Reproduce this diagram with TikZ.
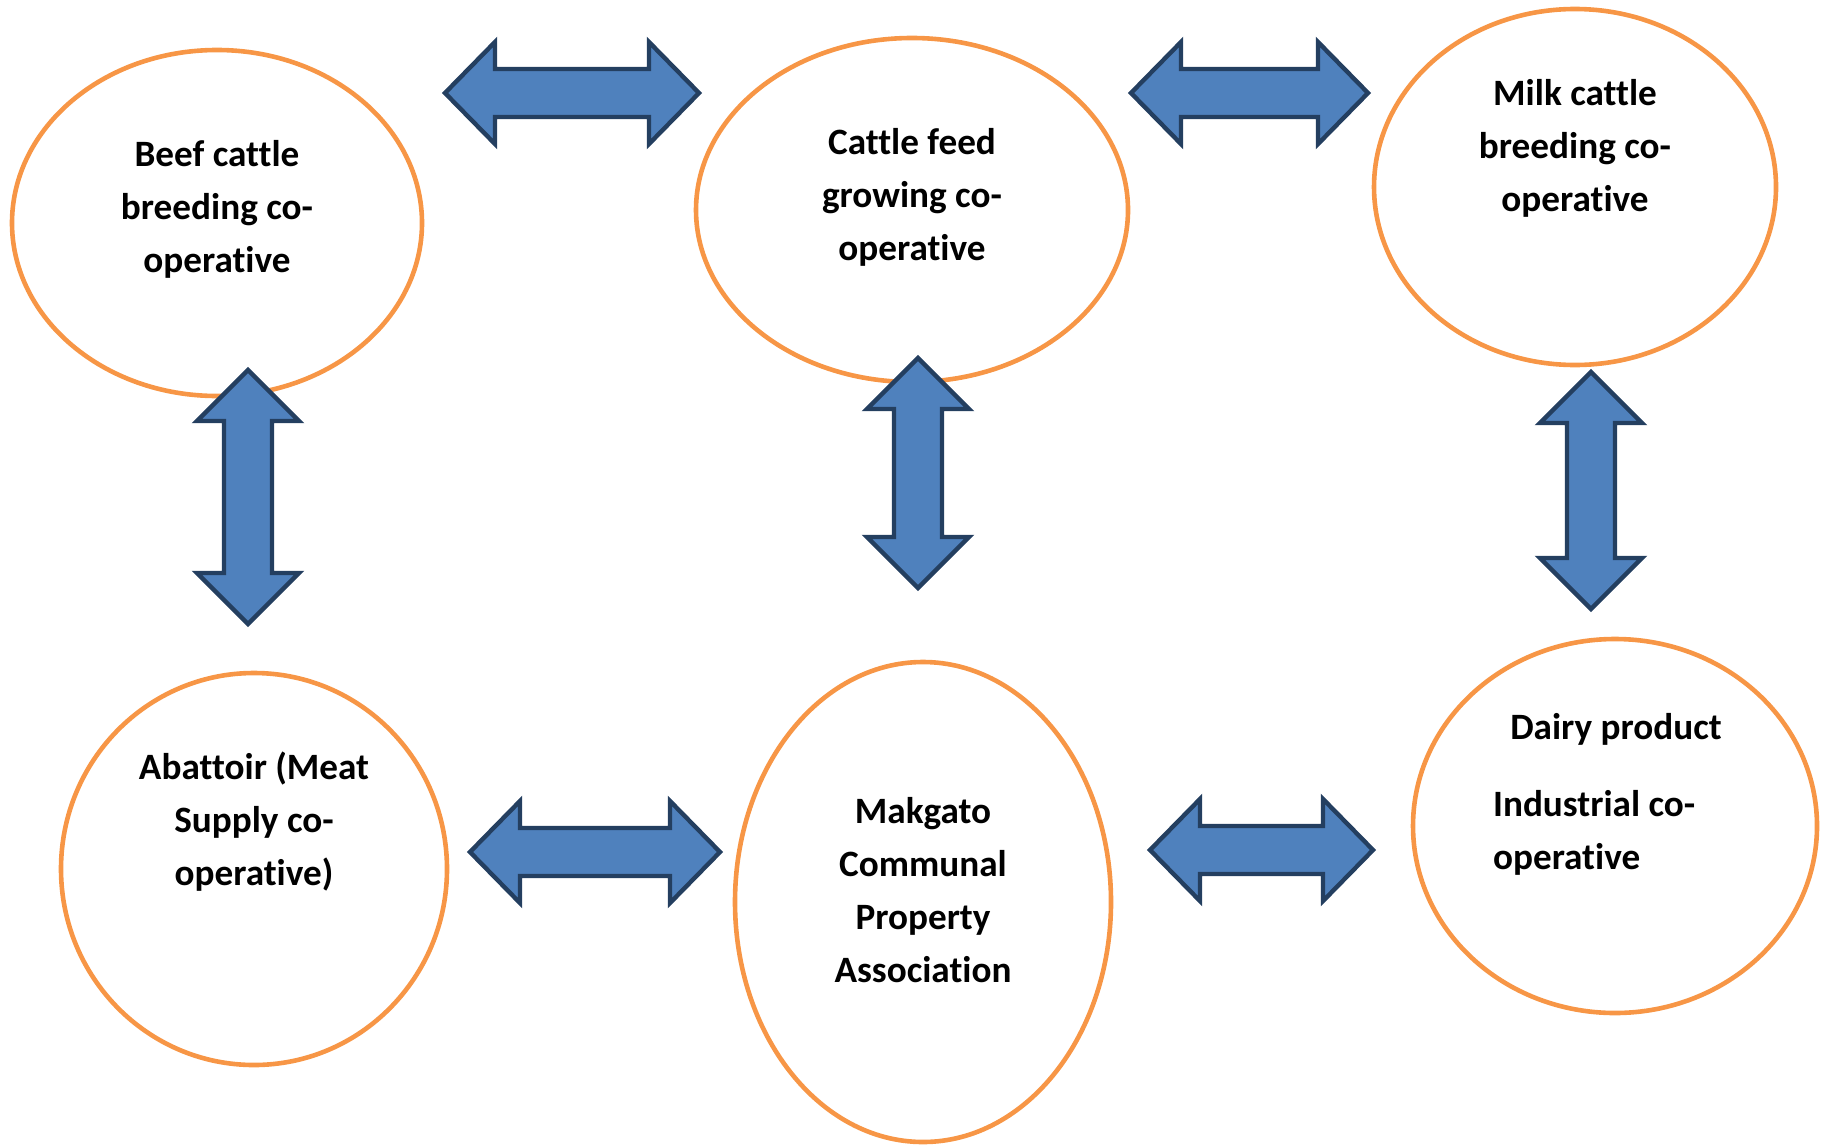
\documentclass[tikz,border=0pt]{standalone}
\usepackage{fontspec}
\setmainfont{Carlito}[Ligatures=NoCommon]
\usetikzlibrary{shapes}

\definecolor{coopline}{HTML}{F79646}
\definecolor{arrowfill}{HTML}{4F81BD}
\definecolor{arrowline}{HTML}{243F60}

% block double arrows: from #1 to #2 at #3
\newcommand{\hdbl}[3]{%
  \draw[blockarrow] ({#1+3},#3) -- ({#1+53},{#3-51}) -- ({#1+53},{#3-24})
    -- ({#2-53},{#3-24}) -- ({#2-53},{#3-51}) -- ({#2-3},#3)
    -- ({#2-53},{#3+51}) -- ({#2-53},{#3+24}) -- ({#1+53},{#3+24})
    -- ({#1+53},{#3+51}) -- cycle;}
\newcommand{\vdbl}[3]{%
  \draw[blockarrow] (#3,{#1+3}) -- ({#3+51},{#1+54}) -- ({#3+24},{#1+54})
    -- ({#3+24},{#2-54}) -- ({#3+51},{#2-54}) -- (#3,{#2-3})
    -- ({#3-51},{#2-54}) -- ({#3-24},{#2-54}) -- ({#3-24},{#1+54})
    -- ({#3-51},{#1+54}) -- cycle;}

\begin{document}
\begin{tikzpicture}[x=0.5pt, y=-0.5pt,
  coop/.style={ellipse, draw=coopline, line width=2.3pt, inner sep=0pt},
  lbl/.style={font=\fontsize{18.6}{26.5}\selectfont\bfseries, align=center},
  blockarrow/.style={draw=arrowline, fill=arrowfill, line width=2.2pt, line join=miter}]

  \useasboundingbox (0,0) rectangle (1829,1145);

  \node[coop, minimum width=205pt, minimum height=173pt] (beef) at (217,223) {};
  \node[coop, minimum width=216pt, minimum height=172pt] (feed) at (912,210) {};
  \node[coop, minimum width=201pt, minimum height=178pt] (milk) at (1575,187) {};
  \node[coop, minimum width=193pt, minimum height=196pt] (abattoir) at (254,869) {};
  \node[coop, minimum width=188pt, minimum height=240pt] (makgato) at (923,902) {};
  \node[coop, minimum width=202pt, minimum height=187pt] (dairy) at (1615,826) {};

  \node[lbl] (beeftxt) at (217,209) {Beef cattle\\breeding co-\\operative};
  \node[lbl] (feedtxt) at (912,197) {Cattle feed\\growing co-\\operative};
  \node[lbl] (milktxt) at (1575,148) {Milk cattle\\breeding co-\\operative};
  \node[lbl] (abattoirtxt) at (254,822) {Abattoir (Meat\\Supply co-\\operative)};
  \node[lbl] (makgatotxt) at (923,890) {Makgato\\Communal\\Property\\Association};
  \node[lbl] (dairytxt) at (1616,729) {Dairy product};
  \node[lbl, align=left, anchor=west] (industrytxt) at (1486,833) {Industrial co-\\operative};

  \hdbl{442}{702}{93}
  \hdbl{1128}{1371}{93}
  \vdbl{367}{627}{248}
  \vdbl{355}{591}{918}
  \vdbl{369}{612}{1591}
  \hdbl{467}{723}{852}
  \hdbl{1147}{1376}{850}
\end{tikzpicture}
\end{document}
